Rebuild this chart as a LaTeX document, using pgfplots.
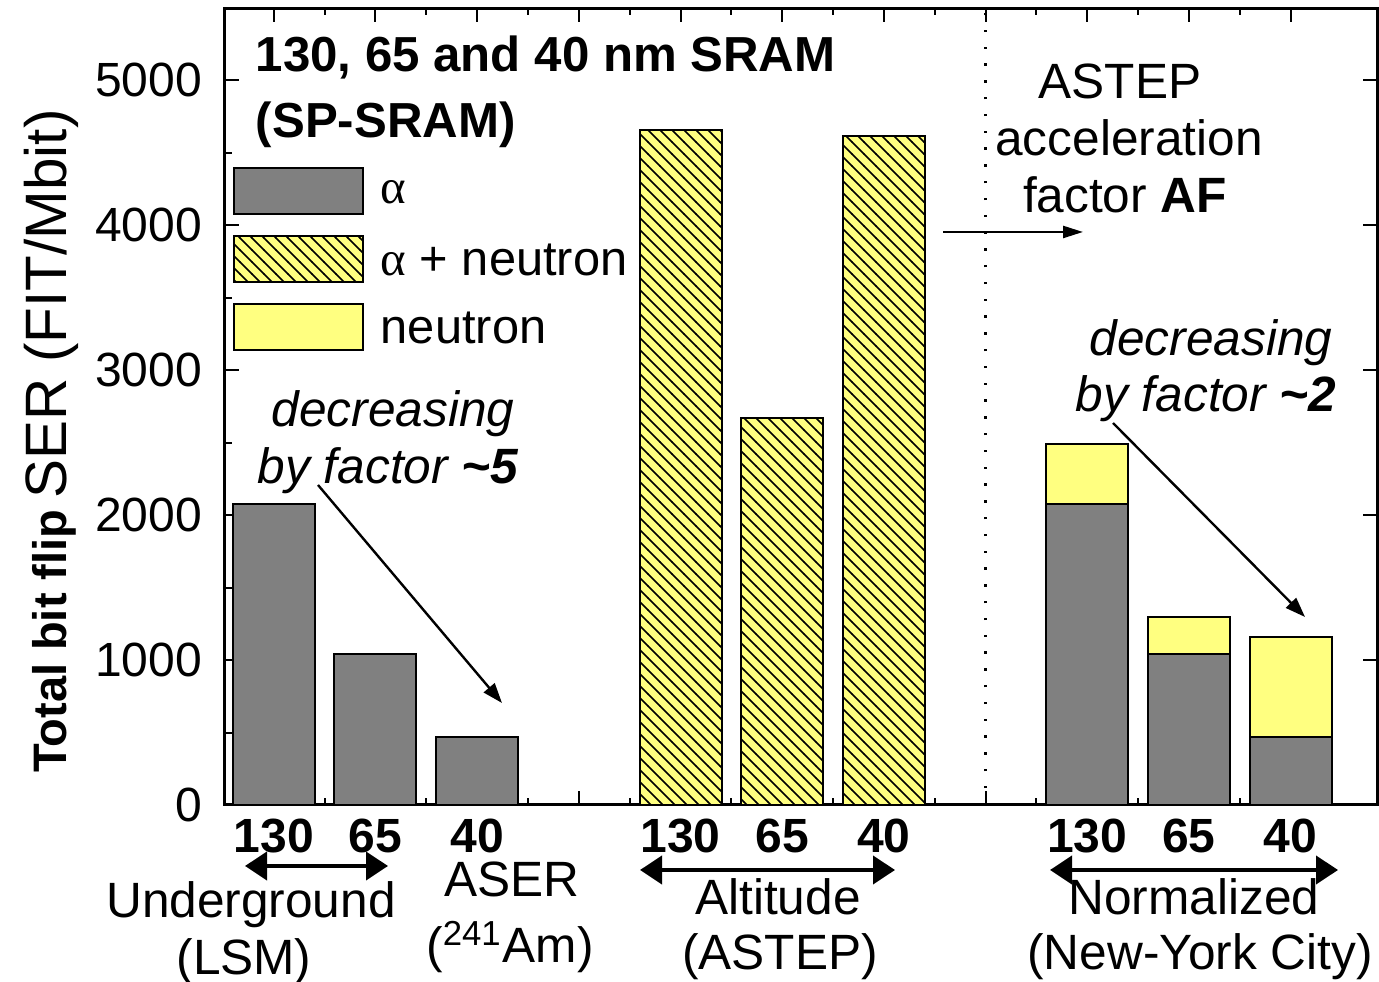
\documentclass[border=0pt]{standalone}
\usepackage{pgfplots}
\pgfplotsset{compat=1.18}
\usepackage{fontspec}
\setmainfont{Liberation Sans}
\newfontfamily\greekserif{Liberation Serif}
\usetikzlibrary{patterns,arrows.meta}
\definecolor{bargray}{RGB}{128,128,128}
\definecolor{baryellow}{RGB}{255,255,128}
\newcommand{\al}{{\greekserif α}}
\newcommand{\tl}{\char"007E\relax}
\begin{document}
\begin{tikzpicture}
\begin{axis}[
  at={(0,0)}, anchor=south west,
  scale only axis, width=288pt, height=199.25pt,
  xmin=-0.48, xmax=10.85, ymin=0, ymax=5500,
  axis line style={line width=0.75pt},
  xtick={0,...,10},
  xticklabels={130,65,40,,130,65,40,,130,65,40},
  minor x tick num=1,
  ytick={0,1000,...,5000}, minor y tick num=1,
  ytick pos=left,
  tick align=inside,
  major tick length=3.5pt, minor tick length=1.75pt,
  every tick/.style={line width=0.5pt, black},
  xticklabel style={font=\bfseries\fontsize{12}{14}\selectfont},
  yticklabel style={font=\fontsize{12}{14}\selectfont, xshift=-2.25pt},
  /pgf/number format/assume math mode=true,
  /pgf/number format/1000 sep={},
  clip=false,
  legend image code/.code={\draw[#1] (0pt,-4.75pt) rectangle (32.25pt,6.75pt);},
  legend style={at={(0.0061,0.8018)}, anchor=north west, draw=none, fill=none,
    font=\fontsize{12.2}{14}\selectfont, row sep=5pt, inner sep=0pt,
    nodes={inner sep=0pt},
    /tikz/every odd column/.append style={column sep=4.25pt}},
  legend cell align=left,
]
% neutron (drawn as total height, alpha drawn over it)
\addplot[ybar, bar width=20.5pt, bar shift=0pt, fill=baryellow, draw=black, line width=0.5pt, forget plot]
  coordinates {(8,2490) (9,1297) (10,1159)};
% alpha
\addplot[ybar, bar width=20.5pt, bar shift=0pt, fill=bargray, draw=black, line width=0.5pt, forget plot]
  coordinates {(0,2076) (1,1041) (2,469) (8,2076) (9,1041) (10,469)};
% alpha + neutron
\addplot[ybar, bar width=20.5pt, bar shift=0pt, fill=baryellow, draw=black, line width=0.5pt,
  postaction={pattern=north west lines}, forget plot]
  coordinates {(4,4655) (5,2669) (6,4614)};
\addlegendimage{fill=bargray, draw=black, line width=0.5pt}
\addlegendentry{\al}
\addlegendimage{fill=baryellow, draw=black, line width=0.5pt, postaction={pattern=north west lines}}
\addlegendentry{\al{} + neutron}
\addlegendimage{fill=baryellow, draw=black, line width=0.5pt}
\addlegendentry{neutron}
\draw[line width=0.6pt, dash pattern=on 0.6pt off 3.6pt] (axis cs:7,0) -- (axis cs:7,5500);
\end{axis}
% right-hand ticks (major only)
\begin{axis}[
  at={(0,0)}, anchor=south west,
  scale only axis, width=288pt, height=199.25pt,
  xmin=-0.48, xmax=10.85, ymin=0, ymax=5500,
  axis x line=none, axis y line*=right,
  axis line style={line width=0.75pt, -},
  ytick={0,1000,...,5000}, yticklabels={},
  tick align=inside, major tick length=3.5pt,
  every tick/.style={line width=0.5pt, black},
]
\end{axis}
\begin{scope}[shift={(-56.25pt,201.25pt)}, x=0.25pt, y=-0.25pt]
  % y label
  \node[rotate=90, anchor=base, inner sep=0pt] at (67,441)
    {{\bfseries\fontsize{11.75}{14}\selectfont Total bit flip} {\fontsize{14.6}{17}\selectfont SER (FIT/Mbit)}};
  % title
  \node[anchor=base west, inner sep=0pt, font=\bfseries\fontsize{12.3}{14}\selectfont] at (255,72) {130, 65 and 40 nm SRAM};
  \node[anchor=base west, inner sep=0pt, font=\bfseries\fontsize{12.3}{14}\selectfont] at (255,138) {(SP-SRAM)};
  % ASTEP
  \begin{scope}[every node/.style={anchor=base, inner sep=0pt, font=\fontsize{12.4}{14}\selectfont}]
    \node at (1120,99) {ASTEP};
    \node at (1129,156) {acceleration};
    \node at (1125,213) {factor \textbf{AF}};
    \node at (393,427) {\itshape decreasing};
    \node at (388,484) {\itshape by factor \textbf{\tl5}};
    \node at (1211,356) {\itshape decreasing};
    \node at (1206,412) {\itshape by factor \textbf{\tl2}};
    \node at (251,918) {Underground};
    \node at (244,975) {(LSM)};
    \node at (512,897) {ASER};
    \node at (510,963) {(\textsuperscript{241}Am)};
    \node at (778,915) {Altitude};
    \node at (780,970) {(ASTEP)};
    \node at (1194,915) {Normalized};
    \node at (1200,970) {(New-York City)};
  \end{scope}
  % arrows
  \draw[line width=0.6pt, -{Triangle[length=5pt,width=3pt]}] (943,232) -- (1083,232);
  \draw[line width=0.6pt, -{Triangle[length=5pt,width=3.5pt]}] (318,485) -- (502,703);
  \draw[line width=0.6pt, -{Triangle[length=5pt,width=3.5pt]}] (1113,423) -- (1305,617);
  \draw[line width=1pt, {Triangle[length=5.5pt,width=7pt]}-{Triangle[length=5.5pt,width=7pt]}] (245,866) -- (388,866);
  \draw[line width=1pt, {Triangle[length=5.5pt,width=7pt]}-{Triangle[length=5.5pt,width=7pt]}] (640,870) -- (895,870);
  \draw[line width=1pt, {Triangle[length=5.5pt,width=7pt]}-{Triangle[length=5.5pt,width=7pt]}] (1050,870) -- (1338,870);
  \pgfresetboundingbox
  \path (0,0) rectangle (1379,982);
\end{scope}
\end{tikzpicture}
\end{document}
